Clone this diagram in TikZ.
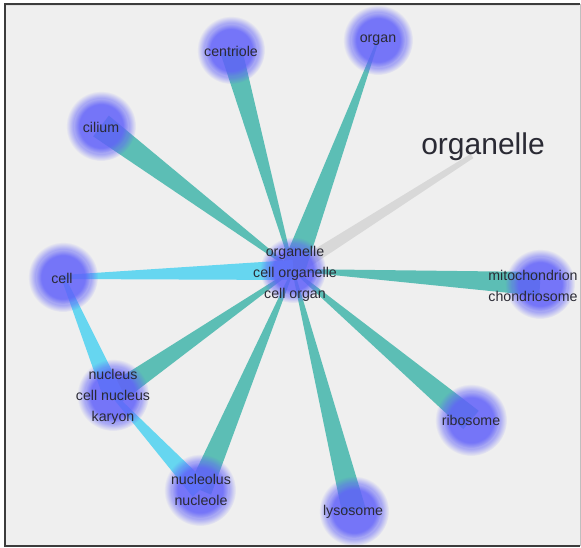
\documentclass[tikz,border=0pt]{standalone}
\usepackage{fontspec}
\setmainfont{Liberation Sans}
\usetikzlibrary{calc,fadings}
\definecolor{bg}{RGB}{239,239,239}
\definecolor{teal}{RGB}{92,190,181}
\definecolor{cyanedge}{RGB}{102,214,240}
\definecolor{grayedge}{RGB}{216,216,216}
\definecolor{nodeblue}{RGB}{96,96,250}
\definecolor{txt}{RGB}{42,42,52}
\definecolor{framedark}{RGB}{60,60,60}
\newcommand{\taper}[5]{% colour, narrow end, wide end, narrow half width, wide half width
  \fill[#1] ($(#2)!#4!90:(#3)$) -- ($(#3)!#5!-90:(#2)$) -- ($(#3)!#5!90:(#2)$) -- ($(#2)!#4!-90:(#3)$) -- cycle;}
\newcommand{\blobat}[2]{% centre, radius
  \fill[nodeblue, opacity=0.5, path fading=circle with fuzzy edge 20 percent] (#1) circle (#2+3);
  \fill[nodeblue, opacity=0.7, path fading=circle with fuzzy edge 20 percent] (#1) circle (#2-5);}
\tikzset{
  lbl/.style={text=txt, font=\fontsize{14.2}{21}\selectfont, align=center, inner sep=0pt}
}
\begin{document}
\begin{tikzpicture}[x=1pt,y=-1pt]
\useasboundingbox (0,0) rectangle (581,548);
\fill[white] (0,0) rectangle (581,548);
\fill[bg] (5,4) rectangle (580,546);
% node centres
\coordinate (cent) at (293,270);
\coordinate (organ) at (378,40);
\coordinate (centriole) at (231,50);
\coordinate (cilium) at (101,126);
\coordinate (cell) at (63,277);
\coordinate (mito) at (540,284);
\coordinate (nucleus) at (113,395);
\coordinate (nucleolus) at (200,490);
\coordinate (ribosome) at (471,420);
\coordinate (lysosome) at (354,511);
\coordinate (orglend) at (472,156);
\begin{scope}
\clip (6,5) rectangle (579,545);
% edges
\taper{grayedge}{orglend}{cent}{2.5pt}{6.5pt}
\taper{teal}{organ}{cent}{1pt}{12pt}
\taper{teal}{cent}{centriole}{1pt}{11pt}
\taper{teal}{cent}{cilium}{1pt}{13pt}
\taper{cyanedge}{cell}{cent}{2pt}{10pt}
\taper{teal}{cent}{mito}{1pt}{12pt}
\taper{teal}{cent}{nucleus}{1pt}{11pt}
\taper{teal}{cent}{nucleolus}{1pt}{12pt}
\taper{teal}{cent}{lysosome}{1pt}{12pt}
\taper{teal}{cent}{ribosome}{1pt}{12pt}
\taper{cyanedge}{cell}{nucleus}{2pt}{10pt}
\taper{cyanedge}{nucleus}{nucleolus}{2pt}{10pt}
% blobs
\blobat{cent}{30}
\blobat{organ}{32}
\blobat{centriole}{31}
\blobat{cilium}{32}
\blobat{cell}{32}
\blobat{mito}{32}
\blobat{nucleus}{33}
\blobat{nucleolus}{33}
\blobat{ribosome}{33}
\blobat{lysosome}{32}
% labels
\node[lbl] (cent-t) at (295,274) {organelle\\cell organelle\\cell organ};
\node[lbl] (organ-t) at (378,40) {organ};
\node[lbl] (centriole-t) at (231,51) {centriole};
\node[lbl] (cilium-t) at (101,127) {cilium};
\node[lbl] (cell-t) at (62,278) {cell};
\node[lbl] (mito-t) at (533,286) {mitochondrion\\chondriosome};
\node[lbl] (nucleus-t) at (113,397) {nucleus\\cell nucleus\\karyon};
\node[lbl] (nucleolus-t) at (201,490) {nucleolus\\nucleole};
\node[lbl] (ribosome-t) at (471,420) {ribosome};
\node[lbl] (lysosome-t) at (353,512) {lysosome};
\node[text=txt, font=\fontsize{30}{36}\selectfont, inner sep=0pt] (orgl) at (483,147) {organelle};
\end{scope}
% frame
\draw[framedark, line width=1.5pt] (580,4) -- (5,4) -- (5,546) -- (580,546);
\draw[black!25, line width=0.8pt] (580,4) -- (580,546);
\draw[black!12, line width=1pt] (6,6) -- (579,6);
\end{tikzpicture}
\end{document}
